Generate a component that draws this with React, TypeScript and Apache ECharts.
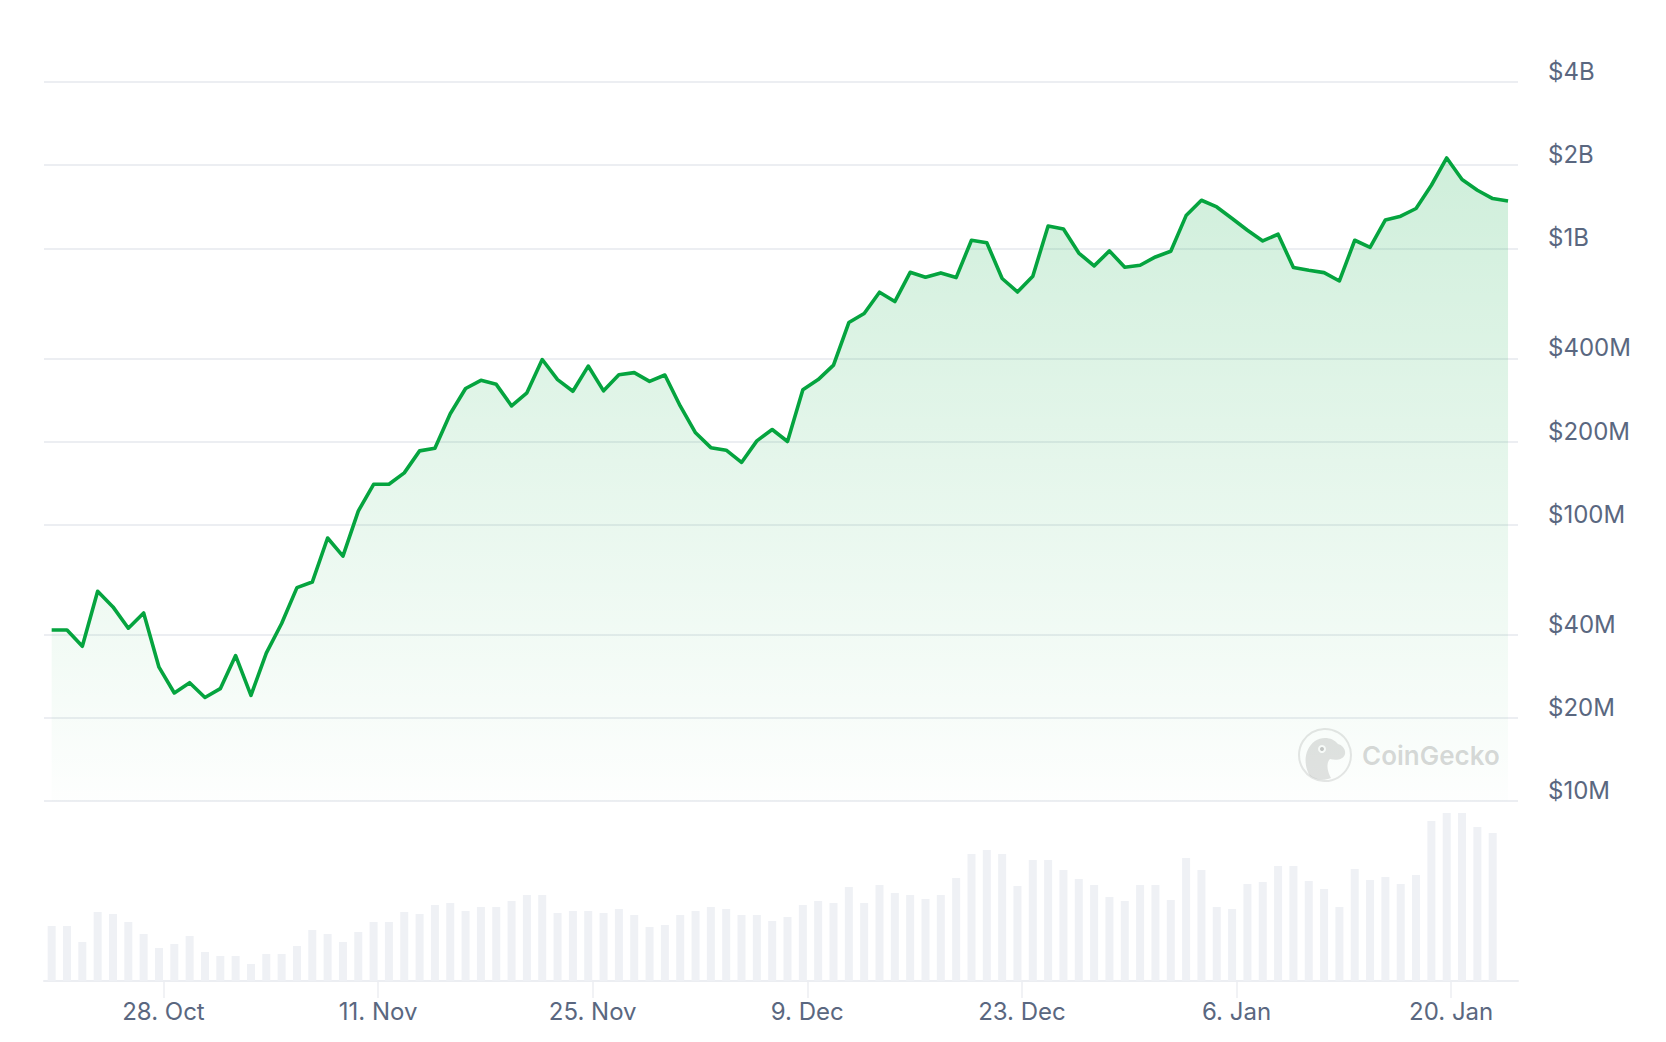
import React, { useEffect, useRef } from "react";
import * as echarts from "echarts";

// Daily market cap (USD millions), 21 Oct 2024 .. 24 Jan 2025
const marketCapM = [
  41.6, 41.6, 36.3, 57.4, 50.4, 42.2, 47.9, 30.5, 24.6, 26.8,
  23.7, 25.5, 33.6, 24.1, 34.3, 43.9, 59.2, 62.0, 89.5, 76.9,
  112, 140, 140, 154, 185, 189, 252, 311, 333, 322,
  269, 300, 396, 335, 304, 375, 305, 349, 355, 330,
  348, 269, 215, 190, 186, 168, 201, 221, 200, 308,
  335, 378, 539, 581, 694, 642, 819, 786, 815, 784,
  1070, 1048, 778, 695, 793, 1205, 1175, 962, 864, 979,
  854, 869, 931, 976, 1314, 1493, 1412, 1282, 1163, 1064,
  1125, 852, 833, 817, 762, 1070, 1009, 1267, 1307, 1394,
  1692, 2124, 1775, 1623, 1514, 1483,
];

// Daily volume (USD millions), 21 Oct 2024 .. 23 Jan 2025
const volumeM = [
  220, 220, 156, 276, 268, 236, 188, 132, 148, 180,
  116, 100, 100, 68, 108, 108, 140, 204, 188, 156,
  196, 236, 236, 276, 268, 304, 312, 280, 296, 296,
  320, 344, 344, 272, 280, 280, 272, 288, 264, 216,
  224, 264, 280, 296, 288, 264, 264, 240, 256, 304,
  320, 312, 376, 312, 384, 352, 344, 328, 344, 412,
  508, 524, 508, 380, 484, 484, 444, 408, 384, 336,
  320, 384, 384, 324, 492, 444, 296, 288, 388, 396,
  460, 460, 400, 368, 296, 448, 404, 416, 388, 424,
  640, 672, 672, 616, 592,
];

const startDay = [2024, 9, 21];
const xTickDates = [
  [2024, 9, 28], [2024, 10, 11], [2024, 10, 25], [2024, 11, 9],
  [2024, 11, 23], [2025, 0, 6], [2025, 0, 20],
];
const yTickValues = [1e7, 2e7, 4e7, 1e8, 2e8, 4e8, 1e9, 2e9, 4e9];
const monthNames = ["Jan", "Feb", "Mar", "Apr", "May", "Jun", "Jul", "Aug", "Sep", "Oct", "Nov", "Dec"];

const dayTs = (i: number) => new Date(startDay[0], startDay[1], startDay[2] + i).getTime();

const GECKO_D =
  "M -15 21 C -22 10 -21 -6 -10 -14 C -3 -19 8 -18 13 -11 C 17 -10 21 -6 20 -1 C 19 4 12 6 5 4 C 1 8 2 16 6 23 C -1 26 -10 25 -15 21 Z";

export default function App() {
  const ref = useRef<HTMLDivElement>(null);

  useEffect(() => {
    if (!ref.current) return;
    try {
      echarts.graphic.registerShape("gecko", echarts.graphic.extendPath(GECKO_D, {}));
    } catch (e) {}
    const chart = echarts.init(ref.current, null, { renderer: "svg" });

    const labelColor = "#5a6780";
    const gridColor = "#eceef2";
    const font = 'Inter, "Noto Sans", "DejaVu Sans", sans-serif';
    const xMin = new Date(2024, 9, 20, 12).getTime();
    const xMax = new Date(2025, 0, 24, 15, 36).getTime();
    // the source's day ticks sit a few hours after the daily data stamps
    const xTicks = xTickDates.map((d) => new Date(d[0], d[1], d[2], 7).getTime());

    const priceData = marketCapM.map((v, i) => [dayTs(i), v * 1e6]);
    const volData = volumeM.map((v, i) => [dayTs(i), v]);

    const option: any = {
      animation: false,
      backgroundColor: "#ffffff",
      textStyle: { fontFamily: font },
      grid: [
        { left: 44, right: 148, top: 82, height: 719 },
        { left: 44, right: 148, top: 801, height: 180 },
      ],
      xAxis: [
        { type: "value", gridIndex: 0, min: xMin, max: xMax, show: false },
        {
          type: "value",
          gridIndex: 1,
          min: xMin,
          max: xMax,
          axisLine: { show: true, lineStyle: { color: gridColor, width: 2 } },
          axisTick: {
            show: true,
            length: 17,
            customValues: xTicks,
            lineStyle: { color: gridColor, width: 1.5 },
          },
          axisLabel: {
            customValues: xTicks,
            color: labelColor,
            fontSize: 24,
            fontFamily: font,
            margin: 18,
            showMinLabel: true,
            showMaxLabel: true,
            formatter: (v: number) => {
              const d = new Date(v);
              return `${d.getDate()}. ${monthNames[d.getMonth()]}`;
            },
          },
          splitLine: { show: false },
        },
      ],
      yAxis: [
        {
          type: "log",
          logBase: 10,
          gridIndex: 0,
          position: "right",
          min: 1e7,
          max: 4e9,
          axisLine: { show: false },
          axisTick: { show: false, customValues: yTickValues },
          axisLabel: {
            customValues: yTickValues,
            color: labelColor,
            fontSize: 24,
            fontFamily: font,
            margin: 30,
            verticalAlign: "bottom",
            lineHeight: 21,
            formatter: (v: number) =>
              v >= 1e9 ? `$${Math.round(v / 1e9)}B` : `$${Math.round(v / 1e6)}M`,
          },
          splitLine: { show: true, lineStyle: { color: gridColor, width: 2 } },
        },
        { type: "value", gridIndex: 1, min: 0, max: 720, show: false },
      ],
      series: [
        {
          type: "bar",
          name: "Volume",
          xAxisIndex: 1,
          yAxisIndex: 1,
          data: volData,
          barWidth: 8,
          itemStyle: { color: "#eff1f5" },
        },
        {
          type: "line",
          name: "Market Cap",
          xAxisIndex: 0,
          yAxisIndex: 0,
          data: priceData,
          showSymbol: false,
          lineStyle: { color: "#05a43f", width: 3.6, join: "round" },
          itemStyle: { color: "#05a43f" },
          areaStyle: {
            origin: "start",
            color: new echarts.graphic.LinearGradient(
              0, 82, 0, 801,
              [
                { offset: 0, color: "rgba(0,168,62,0.30)" },
                { offset: 1, color: "rgba(0,168,62,0.01)" },
              ],
              true
            ),
          },
          z: 3,
        },
      ],
      graphic: [
        {
          type: "group",
          left: 1298,
          top: 728,
          silent: true,
          children: [
            {
              type: "circle",
              shape: { cx: 27, cy: 27, r: 26 },
              style: { fill: "rgba(255,255,255,0.5)", stroke: "rgba(200,200,200,0.45)", lineWidth: 2 },
            },
            {
              type: "gecko",
              x: 27,
              y: 27,
              style: { fill: "rgba(190,190,190,0.45)" },
            },
            {
              type: "circle",
              shape: { cx: 24, cy: 21, r: 4 },
              style: { fill: "rgba(255,255,255,0.9)" },
            },
            {
              type: "circle",
              shape: { cx: 24, cy: 21, r: 2 },
              style: { fill: "rgba(160,160,160,0.6)" },
            },
            {
              type: "text",
              x: 64,
              y: 27,
              style: {
                text: "CoinGecko",
                fill: "rgba(170,170,170,0.45)",
                font: `600 26px ${font}`,
                verticalAlign: "middle",
              },
            },
          ],
        },
      ],
    };

    chart.setOption(option);
    return () => chart.dispose();
  }, []);

  return (
    <div
      ref={ref}
      style={{ position: "fixed", left: 0, top: 0, width: 1666, height: 1042, background: "#fff" }}
    />
  );
}
